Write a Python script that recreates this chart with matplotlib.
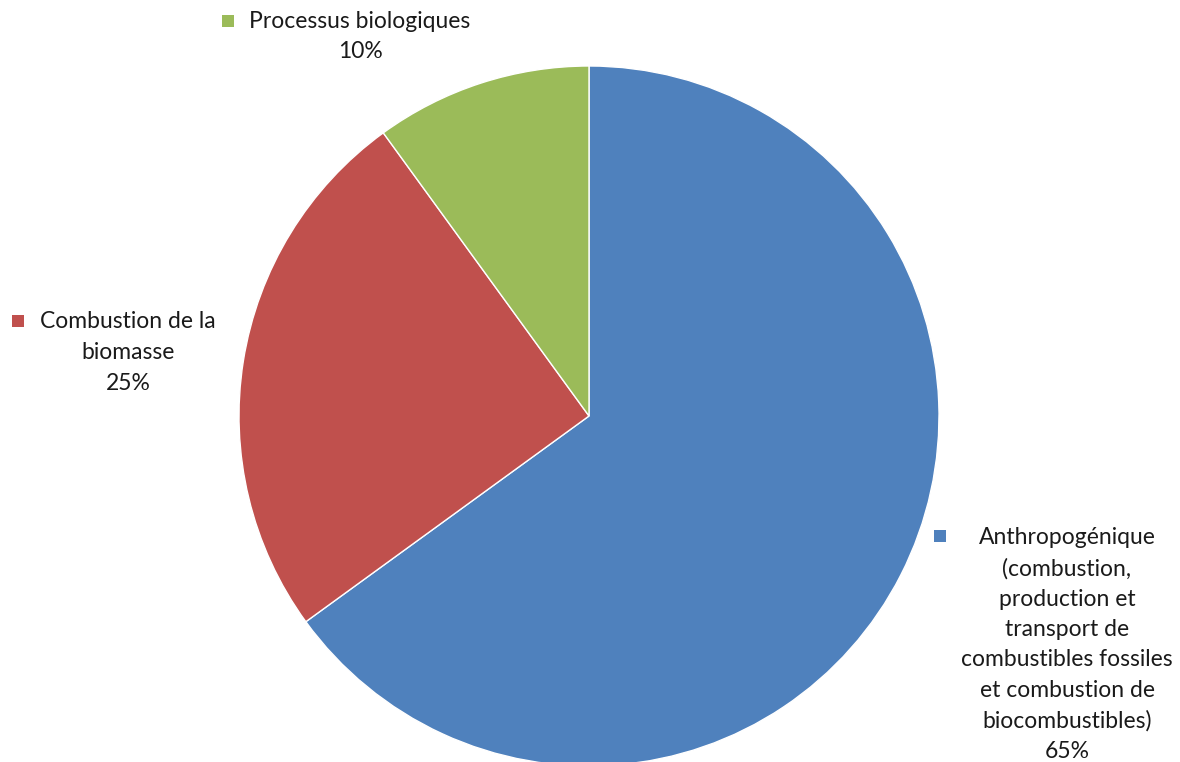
import numpy as np
import matplotlib.pyplot as plt

# Sources (parts en %)
categories = ['Anthropogénique\n(combustion,\nproduction et\ntransport de\ncombustibles fossiles\net combustion de\nbiocombustibles)',
              'Combustion de la\nbiomasse',
              'Processus biologiques']
values = [65, 25, 10]
colors = ['#4F81BD', '#C0504D', '#9BBB59']

plt.rcParams['font.family'] = ['Lato', 'DejaVu Sans']

W, H = 1180, 762
fig = plt.figure(figsize=(W / 100, H / 100), dpi=100)
ax = fig.add_axes([0, 0, 1, 1])

cx, cy, r = 589, H - 416, 350
ax.pie(values, colors=colors, startangle=90, counterclock=False,
       center=(cx, cy), radius=r, frame=True,
       wedgeprops=dict(edgecolor='white', linewidth=1))
ax.set_xlim(0, W)
ax.set_ylim(0, H)
ax.set_aspect('equal')
ax.axis('off')

# label layout: (marker x, marker y, text centre x, first line y)
layout = [(940, 536, 1067, 538),
          (18, 321, 128, 322),
          (228, 21, 360, 21)]

for (mx, my, tx, ty), cat, v, c in zip(layout, categories, values, colors):
    lines = cat.split('\n') + [f'{v}%']
    ax.plot(mx, H - my, 's', color=c, markersize=8, markeredgewidth=0)
    for k, line in enumerate(lines):
        ax.text(tx, H - ty - k * 30.5, line, ha='center', va='center',
                fontsize=16.5, color='#1a1a1a')

fig.savefig('out.png', dpi=100)
